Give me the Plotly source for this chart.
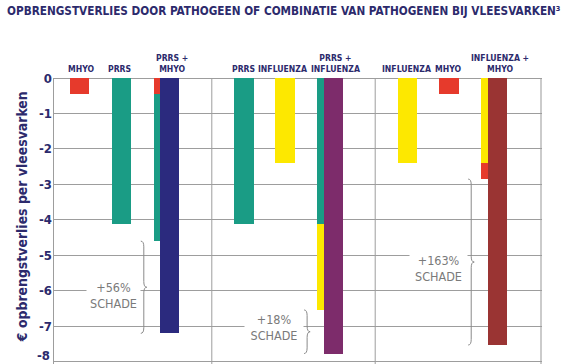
import plotly.graph_objects as go

# ---------------- data ----------------
title_text = "OPBRENGSTVERLIES DOOR PATHOGEEN OF COMBINATIE VAN PATHOGENEN BIJ VLEESVARKEN³"
y_title = "€ opbrengstverlies per vleesvarken"

# single-pathogen bars (loss in € per pig, shown negative)
single_labels = ["MHYO", "PRRS", "PRRS", "INFLUENZA", "INFLUENZA", "MHYO"]
single_values = [0.45, 4.13, 4.13, 2.40, 2.40, 0.45]
single_keys = ["mhyo", "prrs", "prrs", "infl", "infl", "mhyo"]

# combinations: sum of single parts (stacked narrow bar) vs real combined loss
combo_labels = ["PRRS +<br>MHYO", "PRRS +<br>INFLUENZA", "INFLUENZA +<br>MHYO"]
combo_part1_keys = ["mhyo", "prrs", "infl"]
combo_part1_values = [0.45, 4.13, 2.40]
combo_part2_keys = ["prrs", "infl", "mhyo"]
combo_part2_values = [4.15, 2.41, 0.45]
combo_values = [7.20, 7.77, 7.53]
combo_keys = ["prrs_mhyo", "prrs_infl", "infl_mhyo"]
damage_text = ["+56%<br>SCHADE", "+18%<br>SCHADE", "+163%<br>SCHADE"]

y_ticks = [0, -1, -2, -3, -4, -5, -6, -7, -8]

# ---------------- layout / style ----------------
colors = {
    "mhyo": "#e63a2c",
    "prrs": "#1a9c85",
    "infl": "#fde800",
    "prrs_mhyo": "#2b2a7e",
    "prrs_infl": "#7d2c6b",
    "infl_mhyo": "#9a3433",
}
W, H = 564, 364
ML, MR, MT, MB = 53, 22.3, 77.7, 0
PW, PH = W - ML - MR, H - MT - MB
PX_PER_UNIT = 35.5

single_pos = [26.7, 68.3, 190.8, 232.0, 354.0, 395.7]
single_label_shift = [1.3, -2.3, -0.8, -2.5, -0.3, -0.7]
narrow_pos = [104.0, 267.2, 431.2]
combo_pos = [116.7, 280.2, 444.0]
combo_label_shift = 2.5
sep_pos = [158.7, 322.0]
x_end = PW
W_BAR = 19.3
W_NARROW = 6.5
note_y = [-6.14, -7.04, -5.36]
note_box_w = [47, 52, 51]

NAVY = "#2c2a6c"
GRID = "#9d9d9d"
NOTE = "#7a7a7a"
FONT = "DejaVu Sans Condensed, Liberation Sans Narrow, Arial Narrow, sans-serif"
TICK_SIZE = 13


def px_x(xa):
    return (xa - ML) / PW


def px_y(ya):
    return (H - MB - ya) / PH


fig = go.Figure()


def bar(x, v, base, width, color):
    fig.add_trace(go.Bar(x=[x], y=[-v], base=[base], width=[width],
                         marker=dict(color=color, line=dict(width=0)),
                         showlegend=False, hoverinfo="skip"))


for x, v, k in zip(single_pos, single_values, single_keys):
    bar(x, v, 0, W_BAR, colors[k])

for i in range(3):
    p1 = combo_part1_values[i]
    p2 = combo_part2_values[i]
    bar(narrow_pos[i], p1, 0, W_NARROW, colors[combo_part1_keys[i]])
    bar(narrow_pos[i], p2, -p1, W_NARROW, colors[combo_part2_keys[i]])
    bar(combo_pos[i], combo_values[i], 0, W_BAR, colors[combo_keys[i]])

shapes = []
for xv in [0.5] + sep_pos:
    shapes.append(dict(type="line", xref="x", yref="paper", x0=xv, x1=xv, y0=0, y1=1,
                       line=dict(color=GRID, width=1), layer="below"))
shapes.append(dict(type="line", xref="x", yref="paper", x0=x_end - 1, x1=x_end - 1, y0=0, y1=1,
                   line=dict(color="#cbcbcb", width=2), layer="below"))


def brace(x1, yt, yb, w=6.0, d=0.16):
    x0 = x1 - w
    xm = (x0 + x1) / 2
    ym = (yt + yb) / 2
    return (f"M {x0},{yt} Q {xm},{yt} {xm},{yt - d} L {xm},{ym + d} "
            f"Q {xm},{ym} {x1},{ym} Q {xm},{ym} {xm},{ym - d} "
            f"L {xm},{yb + d} Q {xm},{yb} {x0},{yb}")


annotations = []
for i in range(3):
    top = -(combo_part1_values[i] + combo_part2_values[i])
    bot = -combo_values[i]
    tip = narrow_pos[i] - W_NARROW / 2 - 7
    shapes.append(dict(type="path", xref="x", yref="y", path=brace(tip, top, bot),
                       line=dict(color="#8a8a8a", width=1), layer="above"))
    annotations.append(dict(x=tip - 6, y=note_y[i], xref="x", yref="y",
                            text=damage_text[i], showarrow=False, width=note_box_w[i],
                            xanchor="right", yanchor="middle", align="center",
                            font=dict(family=FONT, size=12.5, color=NOTE),
                            bgcolor="white", borderpad=3))

LABEL_SIZE = 8.6
for x, t, s in zip(single_pos, single_labels, single_label_shift):
    annotations.append(dict(x=x + s, y=px_y(76), xref="x", yref="paper", text=f"<b>{t}</b>",
                            showarrow=False, yanchor="bottom",
                            font=dict(family=FONT, size=LABEL_SIZE, color=NAVY)))
for i in range(3):
    annotations.append(dict(x=combo_pos[i] + combo_label_shift, y=px_y(76), xref="x", yref="paper",
                            text=f"<b>{combo_labels[i]}</b>",
                            showarrow=False, yanchor="bottom", align="center",
                            font=dict(family=FONT, size=LABEL_SIZE, color=NAVY)))

annotations.append(dict(x=px_x(5), y=px_y(11), xref="paper", yref="paper", text=f"<b>{title_text}</b>",
                        showarrow=False, xanchor="left", yanchor="middle",
                        font=dict(family=FONT, size=11.7, color=NAVY)))
annotations.append(dict(x=px_x(22), y=px_y(216), xref="paper", yref="paper", text=f"<b>{y_title}</b>",
                        showarrow=False, textangle=-90, xanchor="center", yanchor="middle",
                        font=dict(family=FONT, size=13.9, color=NAVY)))

# lowest tick label sits at the page's bottom edge: draw it just inside the page
tick_text = [str(v) for v in y_ticks]
tick_text[-1] = ""
annotations.append(dict(x=px_x(51), y=0, xref="paper", yref="paper", text=f"<b>{y_ticks[-1]}</b>",
                        showarrow=False, xanchor="right", yanchor="bottom", borderpad=0,
                        font=dict(family=FONT, size=TICK_SIZE, color=NAVY)))

fig.update_layout(
    width=W, height=H,
    margin=dict(l=ML, r=MR, t=MT, b=MB),
    paper_bgcolor="white", plot_bgcolor="white",
    barmode="overlay", bargap=0,
    xaxis=dict(range=[0, x_end], showgrid=False, zeroline=False, showline=False,
               showticklabels=False, ticks="", fixedrange=True),
    yaxis=dict(range=[-PH / PX_PER_UNIT, 0], tickvals=y_ticks, ticktext=tick_text,
               showgrid=True, gridcolor=GRID, gridwidth=1, zeroline=True, zerolinecolor=GRID,
               zerolinewidth=1, showline=False, ticks="", ticklabeloverflow="allow",
               tickfont=dict(family=FONT, size=TICK_SIZE, color=NAVY, weight="bold"), automargin=False),
    shapes=shapes, annotations=annotations,
)

fig.write_html("out.html", config={"displayModeBar": False},
               post_script="document.body.style.margin='0px';")
